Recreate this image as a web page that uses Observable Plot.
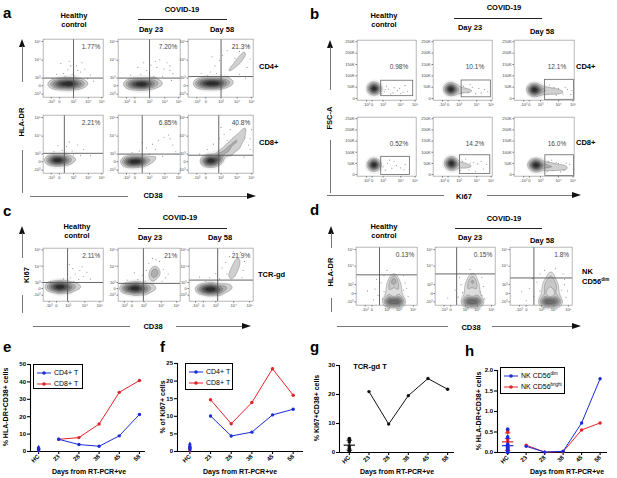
<!DOCTYPE html>
<html><head><meta charset="utf-8">
<script src="https://cdn.jsdelivr.net/npm/d3@7"></script>
<script src="https://cdn.jsdelivr.net/npm/@observablehq/plot@0.6"></script>
<style>
body{margin:0;background:#fff;}
#root{position:relative;width:617px;height:478px;overflow:hidden;background:#fff;font-family:"Liberation Sans",Arial,Helvetica,sans-serif;color:#000;}
.t{position:absolute;white-space:nowrap;line-height:1.15;text-align:center;}
.ln{position:absolute;}
.leg{position:absolute;border:1px solid #000;background:#fff;box-sizing:border-box;font-size:7px;padding:2px 3px;}
.leg div{display:flex;align-items:center;height:11px;white-space:nowrap;}
.leg svg{margin-right:3px;flex:none;}
svg{overflow:visible;}
</style></head><body><div id="root"></div><script>
// ---------------- DATA ----------------
const days = ["HC","23","28","38","45","58"];
const dayIdx = [0,1,2,3,4,5];
// e: % HLA-DR+CD38+ cells
const eCD4 = [7, 4, 3, 9, 21.3];
const eCD8 = [7, 8, 15.8, 34, 40.8];
const eHC4 = [2.1, 1.6, 1.2, 1.8, 0.9, 1.4, 1.7];
const eHC8 = [1.5, 1.0, 0.8, 1.2];
// f: % of Ki67+ cells
const fCD4 = [10.1, 4.4, 5.5, 10.4, 12.0];
const fCD8 = [14.7, 7.9, 13.9, 23.5, 16.0];
const fHC4 = [2.0, 1.5, 1.0, 0.6, 1.2];
const fHC8 = [1.3, 0.8, 0.4, 1.0];
// g: TCR-gd T % Ki67+CD38+
const gTCR = [21, 9.8, 19.6, 25.5, 21.8];
const gHC = [4.8, 4.3, 3.6, 2.2, 1.5, 0.8, 0.5];
// h: NK % HLA-DR+CD38+
const hDim = [0.15, 0.01, 0.03, 0.72, 1.8];
const hBright = [0.18, 0.01, 0.02, 0.55, 0.72];
const hHCdim = [0.57, 0.38, 0.2, 0.15, 0.12, 0.1, 0.08, 0.05, 0.02, 0.0];
const hHCbright = [0.55, 0.5, 0.33, 0.27, 0.12, 0.05, 0.0];

// flow axes (biexponential display units)
const flowLabels = ["-10³","0","10³","10⁴","10⁵"];
const fscLabels = ["0","50K","100K","150K","200K","250K"];
const aXTicks = [-0.58, 0, 1, 2.05, 3.0], aXDom = [-1.15, 3.1];
const aYTicks = [-1.1, 0, 1, 3.35, 5.8], aYDom = [-1.5, 6.1];
const bXTicks = [-0.5, 0, 1, 2.6, 3.9], bXDom = [-1.35, 4.0];
const bYTicks = [0, 50, 100, 150, 200, 250], bYDom = [-7, 257];
const cXTicks = [-0.63, 0, 1, 2.43, 3.71], cXDom = [-1.14, 4.0];
const cYTicks = [-1.1, 0, 1, 3.7, 6.4], cYDom = [-2.1, 6.7];
const dXTicks = [-0.45, 0, 1, 1.8, 2.75], dXDom = [-1.05, 3.0];
const dYTicks = [-0.93, 0, 1, 3.07, 4.93], dYDom = [-1.3, 5.2];

// panel a: HLA-DR vs CD38 (CD4+ row, CD8+ row)
const aPct = ["1.77%","7.20%","21.3%","2.21%","6.85%","40.8%"];
const aGateX = [1.0, 1.0, 1.0, 0.35, 0.5, 0.85];
const aGateY = [1.0, 1.0, 1.2, 1.1, 1.0, 0.85];
const aBlobs = [
  [[-0.7,0.2,1],[-0.45,0.2,2],[-0.2,0.2,3],[0.05,0.25,4],[0.3,0.25,4.5],[0.55,0.25,5],[0.8,0.25,5],[1.05,0.25,4],[1.3,0.25,3],[1.55,0.25,2],[1.8,0.3,1.2],[2.1,0.3,0.6]],
  [[-0.7,0.2,1],[-0.45,0.2,2],[-0.2,0.2,3.5],[0.05,0.2,4.5],[0.3,0.2,5],[0.55,0.2,5],[0.8,0.2,4.5],[1.05,0.25,3.5],[1.3,0.3,2.2],[1.55,0.3,1.4],[1.8,0.3,0.9],[2.1,0.35,0.5],[1.3,1.4,0.7],[1.55,1.8,0.7],[1.8,2.2,0.7],[2.0,2.6,0.6],[2.2,2.9,0.5]],
  [[-0.6,0.3,2],[-0.35,0.3,3],[-0.1,0.3,4],[0.15,0.3,5],[0.4,0.3,5],[0.65,0.3,5],[0.9,0.3,4],[1.15,0.35,3],[1.4,0.4,2],[1.7,0.45,1.2],[1.3,1.5,0.9],[1.55,2.0,1.0],[1.8,2.5,1.1],[2.05,3.0,1.2],[2.25,3.5,1.2],[2.45,4.0,1.1],[2.6,4.5,0.8]],
  [[-0.9,0.2,1],[-0.65,0.2,2.5],[-0.4,0.2,4],[-0.15,0.2,4.5],[0.1,0.2,4],[0.35,0.2,3],[0.6,0.25,2],[0.85,0.25,1.2],[1.2,0.3,0.8],[1.6,0.3,0.5],[2.0,0.3,0.3]],
  [[-0.8,0,1.5],[-0.55,0,3],[-0.3,0,4.5],[-0.05,0,5],[0.2,0.05,4.5],[0.45,0.05,3.5],[0.7,0.1,2.5],[1.0,0.2,1.5],[1.3,0.4,1],[1.6,0.8,0.8],[1.9,1.3,0.6],[2.2,1.9,0.5],[2.5,2.6,0.4]],
  [[-0.1,0.1,3],[0.15,0,4],[0.4,0,4],[0.65,0.1,3.5],[0.85,0.3,3],[0.3,0.4,3],[0.9,0.8,2],[1.15,1.2,2],[1.4,1.7,2],[1.65,2.2,2],[1.9,2.7,1.8],[2.15,3.2,1.6],[2.4,3.8,1.4],[2.6,4.4,1.1],[2.2,2.2,1.4],[1.6,1.0,1.4],[2.0,1.5,1.2],[2.5,3.0,1.0]]
];
const aDots = [
  [[0.3,1.6],[0.6,2.1],[0.9,1.5],[1.2,2.6],[1.5,1.8],[0.1,2.9],[1.8,2.2],[0.7,3.2],[1.1,1.3],[-0.2,1.5],[2.2,1.4],[1.6,3.0],[0.4,1.2],[2.0,0.9],[1.3,2.0],[0.8,2.6],[2.4,0.6],[-0.5,1.0]],
  [[0.4,1.5],[0.8,2.0],[1.1,2.7],[1.4,3.2],[1.7,3.4],[2.0,2.2],[2.4,2.0],[0.2,2.4],[1.3,1.2],[2.2,3.0],[-0.3,1.4],[1.9,1.2],[0.6,3.0],[2.6,1.6],[1.0,1.7],[2.4,2.6],[1.5,2.4],[2.5,0.7]],
  [[0.3,1.8],[0.6,2.6],[0.9,3.3],[1.1,4.0],[1.4,4.6],[1.8,5.0],[0.1,1.3],[2.7,2.4],[2.9,3.5],[1.0,1.4],[0.4,3.8],[2.2,1.5],[2.8,5.2],[-0.3,1.6],[1.9,3.6],[2.2,4.5],[0.7,1.6],[2.6,1.0]],
  [[0.2,1.5],[0.5,2.0],[0.9,1.4],[1.3,2.2],[-0.4,1.3],[1.7,1.6],[0.7,2.6],[1.0,0.9],[2.2,0.8],[-0.1,2.1],[1.5,0.8],[0.4,1.1]],
  [[0.3,1.4],[0.8,1.8],[1.2,2.3],[1.6,2.8],[2.0,3.2],[2.3,3.5],[2.6,2.2],[-0.2,1.2],[1.0,1.0],[2.8,1.3],[1.9,0.7],[0.5,2.5],[2.4,3.0],[1.4,1.6]],
  [[0.1,1.6],[0.5,2.3],[0.9,3.0],[1.2,3.6],[1.6,4.2],[2.0,4.8],[2.9,3.0],[2.9,1.6],[-0.4,1.0],[2.7,5.3],[1.0,4.5],[0.4,0.9],[2.5,0.6],[3.0,4.2],[1.4,2.8],[2.8,2.2]]
];
// panel b: FSC-A (K) vs Ki67
const bPct = ["0.98%","10.1%","12.1%","0.52%","14.2%","16.0%"];
const bGates = [[0.8,3.7,12,80],[1.2,3.85,7,81],[1.36,3.95,-4,84],[0.8,3.4,0,81],[1.06,3.8,4,88],[1.4,3.95,-5,88]];
const bBlobs = [
  [[-0.05,44,2],[0.15,44,4],[0.35,44,3],[0.15,54,1.5],[0.15,35,1.5],[0.6,41,0.8],[0.9,38,0.4]],
  [[0,42,3],[0.25,42,4],[0.5,40,3],[0.25,53,2],[0.25,31,2],[0.9,38,1.4],[1.3,37,1.2],[1.7,35,1.1],[2.1,34,0.9],[2.5,33,0.7],[2.9,32,0.5],[3.3,30,0.3]],
  [[0.15,40,3],[0.45,38,4],[0.75,38,3],[0.45,49,2],[0.45,28,2],[1.1,36,1.8],[1.5,35,1.6],[1.9,33,1.4],[2.3,32,1.2],[2.7,30,1.0],[3.1,29,0.8],[3.5,27,0.5]],
  [[-0.05,44,2],[0.15,44,4],[0.35,44,3],[0.15,55,1.5],[0.15,33,1.5],[0.7,40,0.5]],
  [[0.05,50,3],[0.3,50,4],[0.55,48,3],[0.3,63,2.5],[0.3,37,2.5],[1.0,43,1.5],[1.4,41,1.3],[1.8,39,1.1],[2.2,37,0.9],[2.6,36,0.7],[3.0,35,0.5],[3.4,33,0.3]],
  [[0.25,44,3],[0.6,42,4],[0.95,42,3],[0.6,54,2],[0.6,31,2],[1.4,38,1.8],[1.8,36,1.6],[2.2,34,1.4],[2.6,33,1.2],[3.0,32,1.0],[3.4,30,0.8],[3.8,28,0.5]]
];
const bDots = [
  [[1.1,30],[1.5,42],[1.9,25],[2.3,35],[2.8,28],[1.3,55],[2.0,48],[3.2,32],[1.7,20],[2.5,45],[0.9,22],[3.0,58],[1.2,40],[2.6,22]],
  [[1.4,55],[1.8,25],[2.2,50],[2.8,45],[3.3,40],[1.2,22],[2.5,22],[3.6,30],[0.8,60],[2.0,62],[1.6,45],[3.0,25]],
  [[1.5,50],[2.0,22],[2.6,45],[3.0,20],[3.4,40],[3.8,35],[1.8,60],[2.4,15],[3.7,18],[1.2,18],[2.2,48],[3.2,50]],
  [[1.0,35],[1.4,50],[1.8,28],[2.2,40],[2.6,30],[3.0,45],[1.2,20],[2.0,60],[2.9,22],[1.6,65]],
  [[1.3,60],[1.9,22],[2.3,55],[2.7,48],[3.2,25],[3.5,45],[1.6,70],[2.5,15],[1.1,18],[2.0,52],[3.0,60]],
  [[1.7,58],[2.1,20],[2.6,50],[3.1,18],[3.6,45],[3.9,25],[2.0,65],[2.8,12],[1.6,15],[2.4,55],[3.3,52]]
];
// panel c: Ki67 vs CD38 (TCR-gd)
const cPct = ["2.11%","21%","21.9%"];
const cGateX = [0.95, 0.95, 1.15];
const cGateY = [1.0, 0.85, 1.4];
const cBlobs = [
  [[-0.8,0.3,1],[-0.55,0.3,2],[-0.3,0.3,3],[-0.05,0.3,3.5],[0.2,0.3,3.5],[0.45,0.3,3.5],[0.7,0.3,3],[0.95,0.3,2.5],[1.2,0.3,2],[1.5,0.3,1.5],[1.8,0.3,1],[2.1,0.3,0.6],[2.4,0.3,0.3],[0.3,-0.3,1.5],[1.0,-0.3,1.2],[0.5,0.8,1]],
  [[-0.85,0,1],[-0.6,0,2],[-0.35,0.05,3],[-0.1,0.05,3.5],[0.15,0.05,3.5],[0.4,0.05,3.5],[0.65,0.05,3],[0.9,0.05,2.5],[1.15,0.05,2],[1.45,0.05,1.4],[1.75,0.05,1.0],[2.05,0.05,0.6],[0.3,-0.6,1.4],[1.0,-0.6,1.2],[0.4,0.7,1],[1.7,1.6,1.2],[1.85,2.2,1.5],[1.9,2.8,1.5],[1.9,3.4,1.2],[2.15,2.5,1.0],[1.55,2.5,0.8]],
  [[-0.5,-0.1,1],[-0.25,-0.1,2],[0,-0.1,3],[0.25,-0.1,3.5],[0.5,-0.1,3.5],[0.75,-0.1,3.5],[1.0,-0.1,3],[1.25,-0.1,2.5],[1.55,0,2],[1.85,0.1,1.4],[2.15,0.2,0.9],[2.45,0.2,0.5],[0.5,-0.7,1.4],[1.2,-0.7,1.2],[0.6,0.5,1.2],[2.2,1.8,1.2],[2.35,2.5,1.5],[2.5,3.2,1.5],[2.65,3.9,1.4],[2.75,4.6,1.1],[2.85,5.3,0.7]]
];
const cDots = [
  [[1.2,1.8],[1.6,2.4],[2.0,3.0],[1.4,3.3],[2.3,2.0],[0.6,1.6],[1.9,1.5],[2.6,2.7],[0.2,1.3],[-0.5,1.1],[1.1,4.0],[2.9,1.6],[1.5,1.2],[2.2,3.6]],
  [[0.5,1.5],[0.9,2.2],[1.2,3.0],[1.4,4.2],[2.3,4.5],[2.6,3.2],[2.8,1.8],[0.2,2.6],[-0.4,1.4],[1.7,5.0],[3.0,2.4],[2.0,4.8],[1.1,1.2],[2.5,1.2]],
  [[0.5,1.8],[1.0,2.5],[1.5,3.4],[1.8,4.3],[2.1,5.3],[3.2,3.0],[3.3,4.5],[0.2,1.2],[-0.3,1.9],[1.3,1.6],[3.0,6.0],[2.4,6.1],[1.9,2.4],[3.1,1.8]]
];
// panel d: HLA-DR vs CD38 (NK CD56dim)
const dPct = ["0.13%","0.15%","1.8%"];
const dGateX = [0.5, 0.4, 0.5];
const dGateY = [2.1, 2.2, 1.75];
const dBlobs = [
  [[1.0,-0.95,2.5],[1.25,-0.95,3.5],[1.5,-0.95,3.5],[1.75,-0.95,3],[1.95,-0.95,2],[1.1,-0.4,1.2],[1.8,-0.4,1.2],[1.15,0.2,1.3],[1.75,0.2,1.3],[1.2,0.8,1.4],[1.7,0.8,1.4],[1.3,1.3,1.4],[1.6,1.3,1.4],[1.45,1.7,1.2],[1.45,2.0,0.6]],
  [[1.0,-0.95,2.5],[1.25,-0.95,3.5],[1.5,-0.95,3.5],[1.75,-0.95,3],[1.95,-0.95,2],[1.1,-0.4,1.2],[1.8,-0.4,1.2],[1.15,0.2,1.3],[1.75,0.2,1.3],[1.2,0.8,1.4],[1.7,0.8,1.4],[1.3,1.3,1.4],[1.6,1.3,1.4],[1.45,1.75,1.2],[1.5,2.1,0.6]],
  [[1.1,-0.95,2.5],[1.35,-0.95,3.5],[1.6,-0.95,3.5],[1.85,-0.95,3],[2.1,-0.95,2],[1.2,-0.4,1.3],[1.95,-0.4,1.3],[1.25,0.2,1.4],[1.9,0.2,1.4],[1.3,0.8,1.5],[1.85,0.8,1.5],[1.4,1.3,1.5],[1.75,1.3,1.5],[1.6,1.8,1.3],[1.6,2.3,0.7]]
];
const dDots = [
  [[0.2,0.5],[0.4,-0.2],[0.6,1.2],[-0.3,0.3],[0.7,-0.6],[2.2,1.2],[2.4,-0.3],[0.3,1.6],[0.1,-0.7],[2.1,2.0],[0.8,2.0],[1.0,2.6],[0.8,0.2],[2.1,0.4],[0.9,-0.3],[2.0,-0.5],[0.5,0.8],[2.3,0.6]],
  [[0.3,0.4],[0.5,-0.4],[0.7,1.0],[-0.2,-0.5],[2.2,0.8],[2.3,-0.6],[0.6,1.8],[2.1,1.8],[1.3,2.7],[0.8,0.1],[2.0,0.2],[0.9,-0.6],[2.1,-0.2]],
  [[0.2,0.6],[0.5,-0.3],[0.7,1.3],[-0.3,0.2],[2.5,1.0],[2.6,-0.4],[0.4,1.7],[2.4,2.2],[1.9,2.8],[0.9,2.2],[0.0,-0.8],[2.7,0.3],[0.9,0.3],[2.3,0.4],[1.0,-0.5],[2.2,-0.6],[2.5,1.6],[1.2,2.6]]
];

// ---------------- HELPERS ----------------
const FONT = '"Liberation Sans", Arial, Helvetica, sans-serif';
const root = document.getElementById("root");
function txt(html, x, y, o = {}) {
  const d = document.createElement("div");
  d.className = "t";
  d.innerHTML = html;
  d.style.left = x + "px"; d.style.top = y + "px";
  d.style.fontSize = (o.size || 8) + "px";
  d.style.fontWeight = o.bold === false ? "normal" : "bold";
  if (o.color) d.style.color = o.color;
  const ax = o.anchor === "start" ? 0 : o.anchor === "end" ? -100 : -50;
  if (o.anchor === "start") d.style.textAlign = "left";
  d.style.transform = `translate(${ax}%,-50%)` + (o.rotate ? ` rotate(${o.rotate}deg)` : "");
  root.appendChild(d);
}
function hline(x1, x2, y, c = "#666", w = 1) {
  const d = document.createElement("div"); d.className = "ln";
  Object.assign(d.style, {left: x1 + "px", top: (y - w / 2) + "px", width: (x2 - x1) + "px", height: w + "px", background: c});
  root.appendChild(d);
}
function vline(x, y1, y2, c = "#666", w = 1) {
  const d = document.createElement("div"); d.className = "ln";
  Object.assign(d.style, {left: (x - w / 2) + "px", top: y1 + "px", width: w + "px", height: (y2 - y1) + "px", background: c});
  root.appendChild(d);
}
function arrowUp(x, y) {
  const d = document.createElement("div"); d.className = "ln";
  Object.assign(d.style, {left: (x - 3.5) + "px", top: y + "px", width: 0, height: 0, borderLeft: "3.5px solid transparent", borderRight: "3.5px solid transparent", borderBottom: "8px solid #111"});
  root.appendChild(d);
}
function arrowRight(x, y) {
  const d = document.createElement("div"); d.className = "ln";
  Object.assign(d.style, {left: (x - 9) + "px", top: (y - 3.5) + "px", width: 0, height: 0, borderTop: "3.5px solid transparent", borderBottom: "3.5px solid transparent", borderLeft: "9px solid #111"});
  root.appendChild(d);
}
function place(svg, left, top) {
  svg.style.position = "absolute";
  svg.style.left = left + "px"; svg.style.top = top + "px";
  root.appendChild(svg);
}

// flow plots are drawn at 3x resolution (finer density grid) and shown at 1x
const S = 3;
function flow(box, ax, o) {
  const [L, T, W, H] = box;
  const ml = 15, mr = 2, mt = 3, mb = 9;
  const fx = d => ax.xl[ax.xt.indexOf(d)];
  const fy = d => ax.yl[ax.yt.indexOf(d)];
  const xyw = {x: d => d[0], y: d => d[1], weight: d => d[2]};
  const marks = [
    // light outer cloud of events
    Plot.density(o.blob, {...xyw, bandwidth: 4.5 * S, thresholds: 4, fill: "#cfcfcf", fillOpacity: 0.28, stroke: "none"}),
    Plot.dot(o.dots, {x: d => d[0], y: d => d[1], r: 0.55 * S, fill: "#8a8a8a", stroke: null}),
    Plot.density(o.blob, {...xyw, bandwidth: (o.bw || 2.5) * S, thresholds: 7, fill: "density", fillOpacity: 0.95, stroke: "#444", strokeWidth: 0.3 * S})
  ];
  if (o.rect) marks.push(Plot.rect([o.rect], {x1: d => d[0], x2: d => d[1], y1: d => d[2], y2: d => d[3], fill: "none", stroke: "#666", strokeWidth: 0.8 * S}));
  if (o.gx != null) marks.push(Plot.ruleX([o.gx], {stroke: "#555", strokeWidth: 0.9 * S}));
  if (o.gy != null) marks.push(Plot.ruleY([o.gy], {stroke: "#555", strokeWidth: 0.9 * S}));
  marks.push(Plot.frame({stroke: "#999", strokeWidth: 0.7 * S}));
  marks.push(Plot.text([o.pct], {text: d => d, frameAnchor: o.anchor || "top-right", dx: (o.dx ?? -3) * S, dy: (o.dy ?? 5) * S, fontSize: 6.5 * S, fill: "#444"}));
  marks.push(Plot.axisX({ticks: ax.xt, tickFormat: fx, tickSize: 1.5 * S, tickPadding: 1 * S, fontSize: 4 * S, stroke: "#777", strokeWidth: S, fill: "#444", label: null}));
  marks.push(Plot.axisY({ticks: ax.yt, tickFormat: fy, tickSize: 1.5 * S, tickPadding: 1 * S, fontSize: 4 * S, stroke: "#777", strokeWidth: S, fill: "#444", label: null}));
  const w = W + ml + mr, h = H + mt + mb;
  const svg = Plot.plot({
    width: w * S, height: h * S,
    marginLeft: ml * S, marginRight: mr * S, marginTop: mt * S, marginBottom: mb * S,
    x: {domain: ax.xd, label: null}, y: {domain: ax.yd, label: null},
    color: {type: "linear", range: o.range || ["#eeeeee", "#2a2a2a"]},
    style: {fontFamily: FONT, background: "transparent", overflow: "visible"},
    marks
  });
  svg.setAttribute("width", w); svg.setAttribute("height", h);
  svg.setAttribute("viewBox", `0 0 ${w * S} ${h * S}`);
  place(svg, L - ml, T - mt);
}

const hbar = {draw(ctx, size) { const w = Math.sqrt(size); ctx.moveTo(-w, 0); ctx.lineTo(w, 0); }};
const series = vals => vals.map((v, i) => ({x: i + 1, y: v}));
const BLUE = "#1c2bd9", RED = "#e3232a";

function lineChart(c) {
  const ml = c.ml || 14, mt = 6, mb = 26, mr = 3;
  const marks = [
    Plot.ruleY([c.yd[0]], {stroke: "#000", strokeWidth: 1.1}),
    Plot.ruleX([c.xd[0]], {stroke: "#000", strokeWidth: 1.1}),
    Plot.axisY({ticks: c.yt, tickFormat: c.yf || (d => d), tickSize: 3, tickPadding: 1.5, fontSize: 6, fontWeight: "bold", strokeWidth: 1.1, label: null}),
    Plot.axisX({ticks: dayIdx, tickFormat: i => days[i], tickSize: 3, tickPadding: 1, tickRotate: -45, fontSize: 6, fontWeight: "bold", strokeWidth: 1.1, label: null}),
    ...c.marks
  ];
  const svg = Plot.plot({
    width: ml + c.pw + mr, height: mt + c.ph + mb,
    marginLeft: ml, marginRight: mr, marginTop: mt, marginBottom: mb,
    x: {domain: c.xd, label: null}, y: {domain: c.yd, label: null},
    style: {fontFamily: FONT, background: "transparent", overflow: "visible"},
    marks
  });
  place(svg, c.left, c.top);
}
function seriesMarks(vals, color) {
  return [
    Plot.line(series(vals), {x: "x", y: "y", stroke: color, strokeWidth: 1}),
    Plot.dot(series(vals), {x: "x", y: "y", fill: color, r: 1.7, stroke: null})
  ];
}
function hcMarks(vals, color, symbol = "circle", withMean = false) {
  const m = [Plot.dot(vals, {x: () => 0, y: d => d, fill: color, r: 1.8, symbol, stroke: null})];
  if (withMean) {
    const mean = d3.mean(vals), sd = d3.deviation(vals);
    m.push(Plot.ruleX([mean], {x: () => 0, y1: d => Math.max(0, d - sd), y2: d => d + sd, stroke: color, strokeWidth: 0.9}));
    m.push(Plot.dot([mean], {x: () => 0, y: d => d, symbol: hbar, r: 3.2, stroke: color, strokeWidth: 1.2}));
    m.push(Plot.dot([Math.max(0, mean - sd), mean + sd], {x: () => 0, y: d => d, symbol: hbar, r: 1.6, stroke: color, strokeWidth: 0.9}));
  }
  return m;
}
function legend(x, y, w, h, items) {
  const d = document.createElement("div"); d.className = "leg";
  Object.assign(d.style, {left: x + "px", top: y + "px", width: w + "px", height: h + "px"});
  d.innerHTML = items.map(([label, c]) =>
    `<div><svg width="14" height="6"><line x1="0" y1="3" x2="14" y2="3" stroke="${c}" stroke-width="1"/><circle cx="7" cy="3" r="1.8" fill="${c}"/></svg><span>${label}</span></div>`).join("");
  root.appendChild(d);
}

// ---------------- PANEL a ----------------
const axA = {xt: aXTicks, xl: flowLabels, xd: aXDom, yt: aYTicks, yl: flowLabels, yd: aYDom};
const aCols = [[43, 60], [118, 62], [188, 65]], aRows = [[39, 58], [115, 58]];
aPct.forEach((p, i) => {
  const c = aCols[i % 3], r = aRows[Math.floor(i / 3)];
  flow([c[0], r[0], c[1], r[1]], axA, {blob: aBlobs[i], dots: aDots[i], gx: aGateX[i], gy: aGateY[i], pct: p});
});
txt("a", 3, 13, {size: 15, anchor: "start"});
txt("Healthy<br>control", 74, 21, {size: 7.5});
txt("COVID-19", 182, 10, {size: 7.5});
hline(138, 227, 19, "#222", 0.9);
txt("Day 23", 151, 30, {size: 7.5});
txt("Day 58", 222, 30, {size: 7.5});
txt("CD4+", 259, 67, {size: 7.5, anchor: "start"});
txt("CD8+", 259, 143, {size: 7.5, anchor: "start"});
txt("HLA-DR", 22, 122, {size: 7.5, rotate: -90});
arrowUp(22, 39); vline(22, 46, 82, "#777", 0.9); vline(22, 150, 193, "#777", 0.9);
txt("CD38", 153, 196, {size: 7.5});
hline(30, 128, 196, "#777", 0.9); hline(178, 248, 196, "#777", 0.9); arrowRight(256, 196);

// ---------------- PANEL b ----------------
const axB = {xt: bXTicks, xl: flowLabels, xd: bXDom, yt: bYTicks, yl: fscLabels, yd: bYDom};
const bCols = [[357, 59], [433, 59], [514, 60]], bRows = [[40, 60], [117, 59]];
bPct.forEach((p, i) => {
  const c = bCols[i % 3], r = bRows[Math.floor(i / 3)];
  flow([c[0], r[0], c[1], r[1]], axB, {blob: bBlobs[i], dots: bDots[i], rect: bGates[i], pct: p, anchor: "right", dx: -8, dy: -3});
});
txt("b", 310, 14, {size: 15, anchor: "start"});
txt("Healthy<br>control", 384, 21, {size: 7.5});
txt("COVID-19", 504, 8, {size: 7.5});
hline(454, 542, 18, "#222", 0.9);
txt("Day 23", 470, 28, {size: 7.5});
txt("Day 58", 542, 32, {size: 7.5});
txt("CD4+", 576, 67, {size: 7.5, anchor: "start"});
txt("CD8+", 576, 143, {size: 7.5, anchor: "start"});
txt("FSC-A", 330, 118, {size: 7.5, rotate: -90});
arrowUp(330, 40); vline(330, 47, 90, "#777", 0.9); vline(330, 140, 193, "#777", 0.9);
txt("Ki67", 464, 197, {size: 7.5});
hline(327, 444, 195, "#777", 0.9); hline(487, 573, 195, "#777", 0.9); arrowRight(581, 195);

// ---------------- PANEL c ----------------
const axC = {xt: cXTicks, xl: flowLabels, xd: cXDom, yt: cYTicks, yl: flowLabels, yd: cYDom};
const cCols = [[43, 60], [118, 62], [189, 64]];
cPct.forEach((p, i) => {
  flow([cCols[i][0], 248, cCols[i][1], 53], axC, {blob: cBlobs[i], dots: cDots[i], gx: cGateX[i], gy: cGateY[i], pct: p});
});
txt("c", 3, 211, {size: 15, anchor: "start"});
txt("Healthy<br>control", 77, 232, {size: 7.5});
txt("COVID-19", 180, 218, {size: 7.5});
hline(138, 227, 228, "#222", 0.9);
txt("Day 23", 150, 238, {size: 7.5});
txt("Day 58", 220, 238, {size: 7.5});
txt("TCR-gd", 258, 275, {size: 7.5, anchor: "start"});
txt("Ki67", 27, 275, {size: 7.5, rotate: -90});
arrowUp(22, 226); vline(22, 233, 258, "#777", 0.9); vline(22, 295, 313, "#777", 0.9);
txt("CD38", 153, 327, {size: 7.5});
hline(33, 130, 326, "#777", 0.9); hline(176, 243, 326, "#777", 0.9); arrowRight(251, 326);

// ---------------- PANEL d ----------------
const axD = {xt: dXTicks, xl: flowLabels, xd: dXDom, yt: dYTicks, yl: flowLabels, yd: dYDom};
const dCols = [[356, 61], [435, 60], [510, 62]];
dPct.forEach((p, i) => {
  flow([dCols[i][0], 247, dCols[i][1], 58], axD, {blob: dBlobs[i], dots: dDots[i], gx: dGateX[i], gy: dGateY[i], pct: p, bw: 2.2, range: ["#f3f3f3", "#6a6a6a"]});
});
txt("d", 310, 210, {size: 15, anchor: "start"});
txt("Healthy<br>control", 384, 232, {size: 7.5});
txt("COVID-19", 504, 219, {size: 7.5});
hline(455, 542, 228, "#222", 0.9);
txt("Day 23", 470, 238, {size: 7.5});
txt("Day 58", 542, 241, {size: 7.5});
txt("NK<br>CD56<sup style='font-size:4.5px'>dim</sup>", 582, 277, {size: 7.5, anchor: "start"});
txt("HLA-DR", 331, 272, {size: 7.5, rotate: -90});
arrowUp(331, 226); vline(331, 233, 248, "#777", 0.9); vline(331, 298, 312, "#777", 0.9);
txt("CD38", 471, 328, {size: 7.5});
hline(337, 448, 326, "#777", 0.9); hline(492, 573, 326, "#777", 0.9); arrowRight(581, 326);

// ---------------- PANEL e ----------------
lineChart({left: 16, top: 358, pw: 115, ph: 87, xd: [-0.4, 5.3], yd: [0, 50], yt: [0, 10, 20, 30, 40, 50],
  marks: [...hcMarks(eHC8, RED, "diamond"), ...hcMarks(eHC4, BLUE, "diamond"), ...seriesMarks(eCD8, RED), ...seriesMarks(eCD4, BLUE)]});
txt("e", 3, 347, {size: 15, anchor: "start"});
txt("% HLA-DR+CD38+ cells", 6, 407, {size: 7, rotate: -90});
txt("Days from RT-PCR+ve", 89, 472, {size: 7});
legend(33, 364, 50, 25, [["CD4+ T", BLUE], ["CD8+ T", RED]]);

// ---------------- PANEL f ----------------
lineChart({left: 163, top: 357, pw: 126, ph: 88, xd: [-0.6, 5.5], yd: [0, 25], yt: [0, 5, 10, 15, 20, 25],
  marks: [...hcMarks(fHC8, RED, "diamond"), ...hcMarks(fHC4, BLUE, "diamond"), ...seriesMarks(fCD8, RED), ...seriesMarks(fCD4, BLUE)]});
txt("f", 160, 347, {size: 15, anchor: "start"});
txt("% of Ki67+ cells", 163, 407, {size: 7, rotate: -90});
txt("Days from RT-PCR+ve", 240, 472, {size: 7});
legend(185, 363, 48, 27, [["CD4+ T", BLUE], ["CD8+ T", RED]]);

// ---------------- PANEL g ----------------
lineChart({left: 325, top: 359, pw: 115, ph: 87, xd: [-0.5, 5.35], yd: [0, 30], yt: [0, 10, 20, 30],
  marks: [...hcMarks(gHC, "#111", "circle", true), ...seriesMarks(gTCR, "#111")]});
txt("g", 310, 347, {size: 15, anchor: "start"});
txt("% Ki67+CD38+ cells", 317, 408, {size: 7, rotate: -90});
txt("Days from RT-PCR+ve", 397, 472, {size: 7});
txt("TCR-gd T", 370, 367, {size: 7.5});

// ---------------- PANEL h ----------------
lineChart({left: 481, top: 364, ml: 16, pw: 110, ph: 82, xd: [-0.55, 5.4], yd: [0, 2], yt: [0, 0.5, 1, 1.5, 2], yf: d3.format(".1f"),
  marks: [...hcMarks(hHCbright, RED, "circle", true), ...hcMarks(hHCdim, BLUE, "circle", true), ...seriesMarks(hBright, RED), ...seriesMarks(hDim, BLUE)]});
txt("h", 465, 351, {size: 15, anchor: "start"});
txt("% HLA-DR+CD38+ cells", 479, 411, {size: 7, rotate: -90});
txt("Days from RT-PCR+ve", 567, 472, {size: 7});
legend(500, 367, 65, 27, [["NK CD56<sup style='font-size:4.5px'>dim</sup>", BLUE], ["NK CD56<sup style='font-size:4.5px'>bright</sup>", RED]]);
</script></body></html>
